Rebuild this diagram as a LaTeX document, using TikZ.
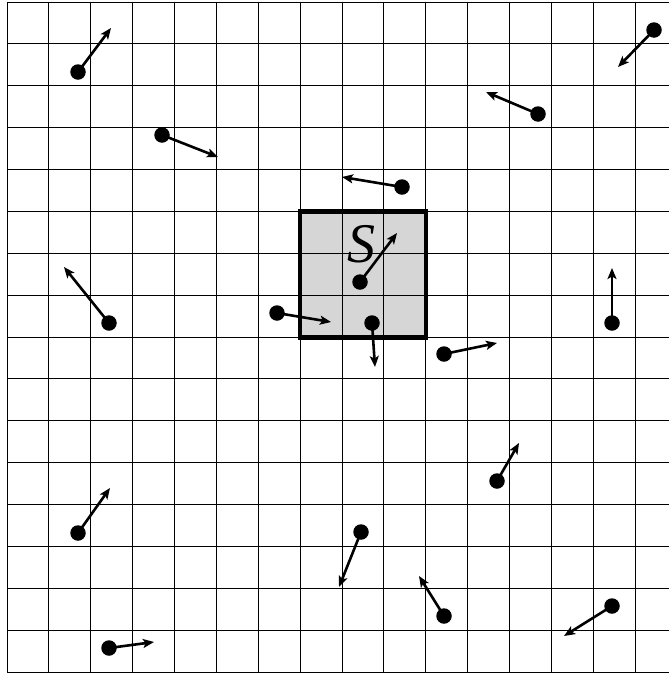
\documentclass[tikz,border=0pt]{standalone}
\usepackage{fontspec}
\setmainfont{Liberation Serif}
\usetikzlibrary{arrows.meta}

\begin{document}
\begin{tikzpicture}[
    x=1pt, y=-1pt,
    particle/.style={circle, fill=black, inner sep=0pt, minimum size=15.5pt},
    velocity/.style={-{Stealth[length=11pt, width=9pt, inset=2.5pt]}, line width=2.6pt},
    gridline/.style={line width=1pt, black},
    region/.style={fill=gray!32, inner sep=0pt, minimum size=125.6pt},
    border/.style={draw=black, line width=4.5pt}
]
\useasboundingbox (0,0) rectangle (669,675);

% shaded region S under the grid
\node[region] (sbox) at (362.9,274.3) {};

\foreach \k in {0,...,16}
    \draw[gridline] (7,2+\k*41.875) -- (669,2+\k*41.875);
\foreach \k in {0,...,15}
    \draw[gridline] (7+\k*41.875,2) -- (7+\k*41.875,672);

\draw[border] (sbox.north west) rectangle (sbox.south east);
\node[anchor=base, inner sep=0pt, font=\fontsize{56}{56}\selectfont\itshape] (slabel) at (361,262) {S};

% particles and velocity ends
\node[particle] (p1) at (78,72) {};     \coordinate (v1) at (111,28);
\node[particle] (p2) at (162,135) {};   \coordinate (v2) at (218,157);
\node[particle] (p3) at (654,30) {};    \coordinate (v3) at (618,67);
\node[particle] (p4) at (538,114) {};   \coordinate (v4) at (486,92);
\node[particle] (p5) at (402,187) {};   \coordinate (v5) at (342,177);
\node[particle] (p6) at (360,282) {};   \coordinate (v6) at (397,233);
\node[particle] (p7) at (277,313) {};   \coordinate (v7) at (331,322);
\node[particle] (p8) at (372,323) {};   \coordinate (v8) at (375,367);
\node[particle] (p9) at (444,354) {};   \coordinate (v9) at (497,343);
\node[particle] (p10) at (109,323) {};  \coordinate (v10) at (64,267);
\node[particle] (p11) at (612,323) {};  \coordinate (v11) at (612,268);
\node[particle] (p12) at (497,481) {};  \coordinate (v12) at (519,443);
\node[particle] (p13) at (78,533) {};   \coordinate (v13) at (110,488);
\node[particle] (p14) at (109,648) {};  \coordinate (v14) at (154,642);
\node[particle] (p15) at (361,532) {};  \coordinate (v15) at (339,587);
\node[particle] (p16) at (444,616) {};  \coordinate (v16) at (419,576);
\node[particle] (p17) at (612,606) {};  \coordinate (v17) at (564,636);

\draw[velocity] (p1.center) -- (v1);
\draw[velocity] (p2.center) -- (v2);
\draw[velocity] (p3.center) -- (v3);
\draw[velocity] (p4.center) -- (v4);
\draw[velocity] (p5.center) -- (v5);
\draw[velocity] (p6.center) -- (v6);
\draw[velocity] (p7.center) -- (v7);
\draw[velocity] (p8.center) -- (v8);
\draw[velocity] (p9.center) -- (v9);
\draw[velocity] (p10.center) -- (v10);
\draw[velocity] (p11.center) -- (v11);
\draw[velocity] (p12.center) -- (v12);
\draw[velocity] (p13.center) -- (v13);
\draw[velocity] (p14.center) -- (v14);
\draw[velocity] (p15.center) -- (v15);
\draw[velocity] (p16.center) -- (v16);
\draw[velocity] (p17.center) -- (v17);

\end{tikzpicture}
\end{document}
